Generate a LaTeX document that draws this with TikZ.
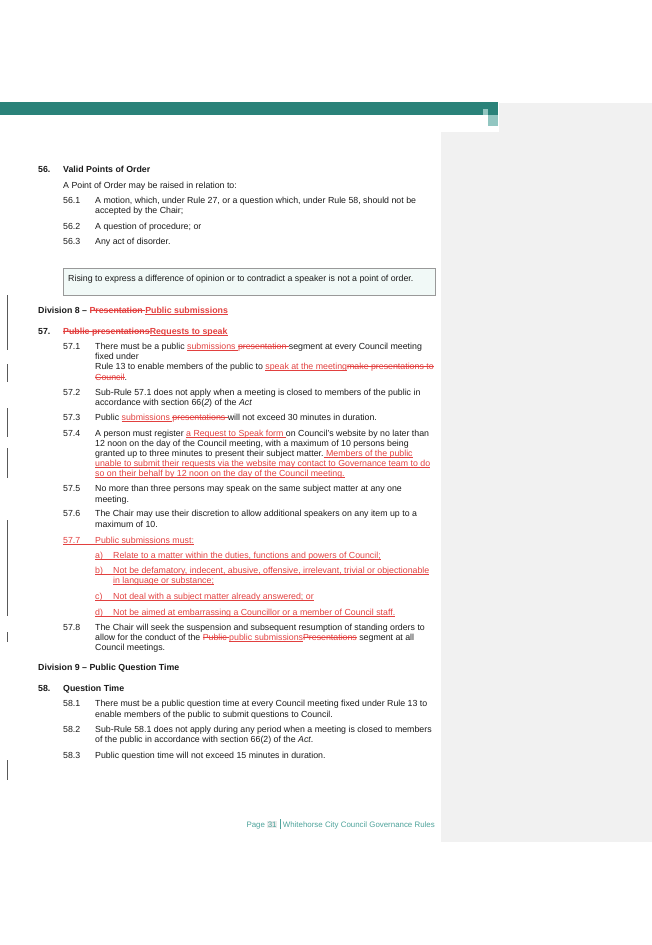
\documentclass[tikz,border=0pt]{standalone}
\usepackage{fontspec}
\setmainfont{Liberation Sans}
\definecolor{ink}{HTML}{1A1A1A}
\definecolor{chg}{HTML}{E2403F}
\definecolor{barteal}{HTML}{2A8279}
\definecolor{lightteal}{HTML}{92C6C1}
\definecolor{footteal}{HTML}{4EA39B}
\definecolor{pane}{HTML}{F1F1F1}
\definecolor{notefill}{HTML}{F1F9F7}
% tracked changes: inserted text underlined, deleted text struck out
\newcommand{\addtxt}[1]{{\color{chg}\setbox0\hbox{#1}\rlap{\rule[-1.6pt]{\wd0}{0.45pt}}\box0}}
\newcommand{\deltxt}[1]{{\color{chg}\setbox0\hbox{#1}\rlap{\rule[2.4pt]{\wd0}{0.45pt}}\box0}}
\tikzset{
  txt/.style={anchor=west,inner sep=0pt,text height=6.3pt,text depth=1.8pt,
    font=\fontsize{8.8}{10}\selectfont,text=ink},
  hd/.style={txt,font=\fontsize{8.8}{10}\selectfont\bfseries},
  chgbar/.style={draw=black!65,line width=0.8pt}
}
\begin{document}
\begin{tikzpicture}[x=1pt,y=-1pt]
\useasboundingbox (0,0) rectangle (652,945);
% the page header and the comment pane
\fill[pane] (499,103) rectangle (652,842);
\fill[pane] (441,132) rectangle (499,842);
\fill[barteal] (0,102) rectangle (498,115);
\fill[lightteal] (488,115) rectangle (498,126);
\fill[lightteal] (483,109) rectangle (488,115);
% change bars in the margin
\foreach \ya/\yb in {295/350,364/382,408/437,448/478,520/616,632/642,760/780}
  \draw[chgbar] (7,\ya) -- (7,\yb);
% rule 56
\node[hd] (n56) at (38,170.5) {56.};
\node[hd] (h56) at (63,170.5) {Valid Points of Order};
\node[txt] (p56) at (63,186) {A Point of Order may be raised in relation to:};
\node[txt] (n561) at (63,201) {56.1};
\node[txt] (t561a) at (95,201) {A motion, which, under Rule 27, or a question which, under Rule 58, should not be};
\node[txt] (t561b) at (95,211) {accepted by the Chair;};
\node[txt] (n562) at (63,227) {56.2};
\node[txt] (t562) at (95,227) {A question of procedure; or};
\node[txt] (n563) at (63,242) {56.3};
\node[txt] (t563) at (95,242) {Any act of disorder.};
% the note box
\draw[draw=black!40,fill=notefill] (63,268) rectangle (435,295);
\node[txt] (note) at (68,279.5) {Rising to express a difference of opinion or to contradict a speaker is not a point of order.};
% division 8
\node[hd] (div8) at (38,311) {Division 8 -- \deltxt{Presentation }\addtxt{Public submissions}};
\node[hd] (n57) at (38,332) {57.};
\node[hd] (h57) at (63,332) {\deltxt{Public presentations}\addtxt{Requests to speak}};
\node[txt] (n571) at (63,347) {57.1};
\node[txt] (t571a) at (95,347) {There must be a public \addtxt{submissions }\deltxt{presentation }segment at every Council meeting};
\node[txt] (t571b) at (95,357) {fixed under};
\node[txt] (t571c) at (95,367) {Rule 13 to enable members of the public to \addtxt{speak at the meeting}\deltxt{make presentations to}};
\node[txt] (t571d) at (95,378) {\deltxt{Council}.};
\node[txt] (n572) at (63,393) {57.2};
\node[txt] (t572a) at (95,393) {Sub-Rule 57.1 does not apply when a meeting is closed to members of the public in};
\node[txt] (t572b) at (95,403) {accordance with section 66(\textit{2}) of the \textit{Act}};
\node[txt] (n573) at (63,418) {57.3};
\node[txt] (t573) at (95,418) {Public \addtxt{submissions }\deltxt{presentations }will not exceed 30 minutes in duration.};
\node[txt] (n574) at (63,434) {57.4};
\node[txt] (t574a) at (95,434) {A person must register \addtxt{a Request to Speak form }on Council’s website by no later than};
\node[txt] (t574b) at (95,444) {12 noon on the day of the Council meeting, with a maximum of 10 persons being};
\node[txt] (t574c) at (95,454) {granted up to three minutes to present their subject matter.\addtxt{ Members of the public}};
\node[txt] (t574d) at (95,464) {\addtxt{unable to submit their requests via the website may contact to Governance team to do}};
\node[txt] (t574e) at (95,474) {\addtxt{so on their behalf by 12 noon on the day of the Council meeting.}};
\node[txt] (n575) at (63,489) {57.5};
\node[txt] (t575a) at (95,489) {No more than three persons may speak on the same subject matter at any one};
\node[txt] (t575b) at (95,500) {meeting.};
\node[txt] (n576) at (63,514) {57.6};
\node[txt] (t576a) at (95,514) {The Chair may use their discretion to allow additional speakers on any item up to a};
\node[txt] (t576b) at (95,525) {maximum of 10.};
\node[txt] (n577) at (63,541) {\addtxt{\makebox[32pt][l]{57.7}Public submissions must:}};
\node[txt] (t577a) at (95,556) {\addtxt{\makebox[18pt][l]{a)}Relate to a matter within the duties, functions and powers of Council;}};
\node[txt] (t577b) at (95,571) {\addtxt{\makebox[18pt][l]{b)}Not be defamatory, indecent, abusive, offensive, irrelevant, trivial or objectionable}};
\node[txt] (t577bb) at (113,581) {\addtxt{in language or substance;}};
\node[txt] (t577c) at (95,597) {\addtxt{\makebox[18pt][l]{c)}Not deal with a subject matter already answered; or}};
\node[txt] (t577d) at (95,613) {\addtxt{\makebox[18pt][l]{d)}Not be aimed at embarrassing a Councillor or a member of Council staff.}};
\node[txt] (n578) at (63,628) {57.8};
\node[txt] (t578a) at (95,628) {The Chair will seek the suspension and subsequent resumption of standing orders to};
\node[txt] (t578b) at (95,638) {allow for the conduct of the \deltxt{Public }\addtxt{public submissions}\deltxt{Presentations} segment at all};
\node[txt] (t578c) at (95,648) {Council meetings.};
% division 9
\node[hd] (div9) at (38,668) {Division 9 -- Public Question Time};
\node[hd] (n58) at (38,689) {58.};
\node[hd] (h58) at (63,689) {Question Time};
\node[txt] (n581) at (63,704) {58.1};
\node[txt] (t581a) at (95,704) {There must be a public question time at every Council meeting fixed under Rule 13 to};
\node[txt] (t581b) at (95,715) {enable members of the public to submit questions to Council.};
\node[txt] (n582) at (63,730) {58.2};
\node[txt] (t582a) at (95,730) {Sub-Rule 58.1 does not apply during any period when a meeting is closed to members};
\node[txt] (t582b) at (95,740) {of the public in accordance with section 66(2) of the \textit{Act}.};
\node[txt] (n583) at (63,756) {58.3};
\node[txt] (t583) at (95,756) {Public question time will not exceed 15 minutes in duration.};
% footer
\node[txt,anchor=east,text=footteal,font=\fontsize{7.9}{9}\selectfont] (foot) at (435,825)
  {Page {\setlength\fboxsep{0.6pt}\colorbox{black!8}{31}}\hspace{2.5pt}\rule[-2pt]{0.7pt}{10pt}\hspace{2.5pt}Whitehorse City Council Governance Rules};
\end{tikzpicture}
\end{document}
